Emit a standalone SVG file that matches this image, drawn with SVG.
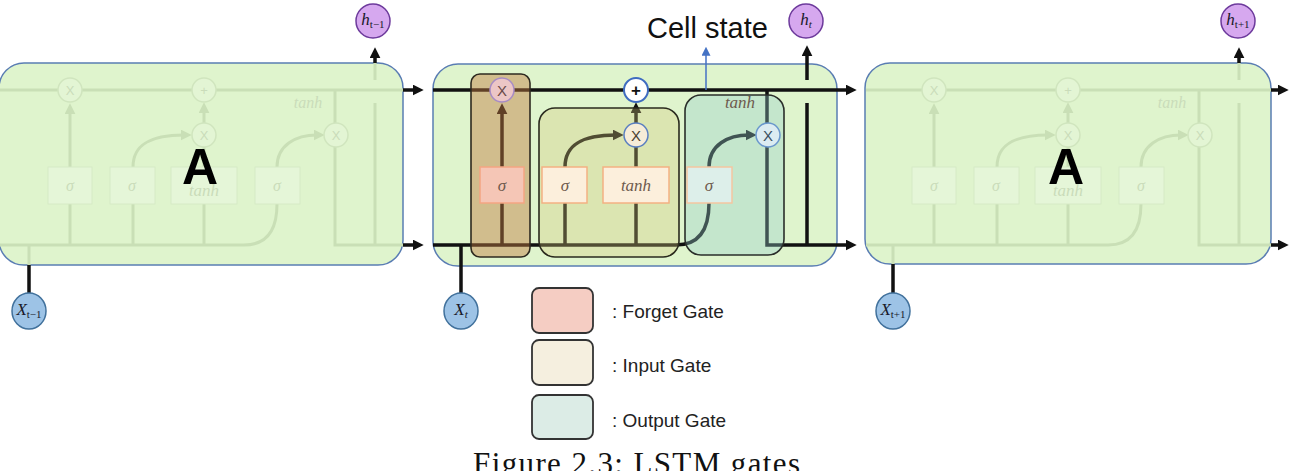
<svg xmlns="http://www.w3.org/2000/svg" width="1296" height="471" viewBox="0 0 1296 471">
<style>
.cellbox{fill:#dff4cd;stroke:#5a7db3;stroke-width:1.5}
.fl{fill:none;stroke:#c9dfb6;stroke-width:3}
.fc{fill:#e3f5d4;stroke:#d0e5be;stroke-width:1.5}
.fbox{fill:#e5f6d8;stroke:#d6eac6;stroke-width:1}
.ft{font-family:"Liberation Serif",serif;font-style:italic;fill:#cadcba;text-anchor:middle}
.fop{font-family:"Liberation Sans",sans-serif;fill:#cadcba;text-anchor:middle;font-size:13px}
.bl{fill:none;stroke:#111;stroke-width:3.5}
.big{font-family:"Liberation Sans",sans-serif;font-weight:bold;font-size:50px;fill:#000;text-anchor:middle}
.sig{font-family:"Liberation Serif",serif;font-style:italic;font-size:17px;fill:#6e5a4e;text-anchor:middle}
.math{font-family:"Liberation Serif",serif;font-size:17px;fill:#1a1a2a;text-anchor:middle}
.leg{font-family:"Liberation Sans",sans-serif;font-size:19px;fill:#222}
.xn{fill:#9dc3e6;stroke:#41719c;stroke-width:1.5}
.hn{fill:#d6a8ef;stroke:#6d3a9c;stroke-width:1.5}
.sw{stroke:#333;stroke-width:1.8}
</style>
<defs>
<marker id="ab" viewBox="0 0 10 10" refX="3" refY="5" markerWidth="11" markerHeight="11" markerUnits="userSpaceOnUse" orient="auto"><path d="M0,0L10,5L0,10z" fill="#111"/></marker>
<marker id="af" viewBox="0 0 10 10" refX="3" refY="5" markerWidth="11" markerHeight="11" markerUnits="userSpaceOnUse" orient="auto"><path d="M0,0L10,5L0,10z" fill="#c9dfb6"/></marker>
<marker id="abl" viewBox="0 0 10 10" refX="3" refY="5" markerWidth="9" markerHeight="9" markerUnits="userSpaceOnUse" orient="auto"><path d="M0,0L10,5L0,10z" fill="#4472c4"/></marker>
</defs>

<!-- Left cell (faded) -->
<g id="cell-left">
<rect class="cellbox" x="-1" y="63" width="404" height="202" rx="25"/>
<path class="fl" d="M0,90H403"/>
<path class="fl" d="M0,245H244Q277,245 277,204"/>
<path class="fl" d="M335,90V245H403"/>
<path class="fl" d="M375,103V245M375,63V80"/>
<path class="fl" d="M29,245V265"/>
<path class="fl" d="M70,245V204M133,245V204M204,245V204M204,167V147"/>
<path class="fl" d="M70,167V111" marker-end="url(#af)"/>
<path class="fl" d="M204,123V110" marker-end="url(#af)"/>
<path class="fl" d="M133,167C133,143 153,135 184,135" marker-end="url(#af)"/>
<path class="fl" d="M277,167C277,145 296,135 317,135" marker-end="url(#af)"/>
<rect class="fbox" x="48" y="167" width="44" height="37"/>
<rect class="fbox" x="110" y="167" width="45" height="37"/>
<rect class="fbox" x="171" y="167" width="66" height="37"/>
<rect class="fbox" x="255" y="167" width="45" height="37"/>
<text class="ft" x="70" y="191" font-size="16">σ</text>
<text class="ft" x="132" y="191" font-size="16">σ</text>
<text class="ft" x="204" y="196" font-size="17">tanh</text>
<text class="ft" x="277" y="191" font-size="16">σ</text>
<text class="ft" x="308" y="108" font-size="16">tanh</text>
<circle class="fc" cx="70" cy="90" r="12"/><text class="fop" x="70" y="95">X</text>
<circle class="fc" cx="204" cy="90" r="12"/><text class="fop" x="204" y="95">+</text>
<circle class="fc" cx="204" cy="135" r="12"/><text class="fop" x="204" y="140">X</text>
<circle class="fc" cx="336" cy="135" r="12"/><text class="fop" x="336" y="140">X</text>
<text class="big" x="200" y="184">A</text>
</g>

<!-- Right cell (faded) -->
<g id="cell-right">
<rect class="cellbox" x="865" y="63" width="406" height="201" rx="25"/>
<path class="fl" d="M866,90H1271"/>
<path class="fl" d="M866,245H1108Q1141,245 1141,204"/>
<path class="fl" d="M1199,90V245H1271"/>
<path class="fl" d="M1239,103V245M1239,63V80"/>
<path class="fl" d="M893,245V264"/>
<path class="fl" d="M934,245V204M997,245V204M1068,245V204M1068,167V147"/>
<path class="fl" d="M934,167V111" marker-end="url(#af)"/>
<path class="fl" d="M1068,123V110" marker-end="url(#af)"/>
<path class="fl" d="M997,167C997,143 1017,135 1048,135" marker-end="url(#af)"/>
<path class="fl" d="M1141,167C1141,145 1160,135 1181,135" marker-end="url(#af)"/>
<rect class="fbox" x="912" y="167" width="44" height="37"/>
<rect class="fbox" x="974" y="167" width="45" height="37"/>
<rect class="fbox" x="1035" y="167" width="66" height="37"/>
<rect class="fbox" x="1119" y="167" width="45" height="37"/>
<text class="ft" x="934" y="191" font-size="16">σ</text>
<text class="ft" x="996" y="191" font-size="16">σ</text>
<text class="ft" x="1068" y="196" font-size="17">tanh</text>
<text class="ft" x="1141" y="191" font-size="16">σ</text>
<text class="ft" x="1172" y="108" font-size="16">tanh</text>
<circle class="fc" cx="934" cy="90" r="12"/><text class="fop" x="934" y="95">X</text>
<circle class="fc" cx="1068" cy="90" r="12"/><text class="fop" x="1068" y="95">+</text>
<circle class="fc" cx="1068" cy="135" r="12"/><text class="fop" x="1068" y="140">X</text>
<circle class="fc" cx="1200" cy="135" r="12"/><text class="fop" x="1200" y="140">X</text>
<text class="big" x="1066" y="184">A</text>
</g>

<!-- Center cell -->
<g id="cell-center">
<rect class="cellbox" x="433" y="64" width="404" height="202" rx="25"/>
<path class="bl" d="M433,90H849" stroke-width="4" marker-end="url(#ab)"/>
<path class="bl" d="M433,245H676Q709,245 709,203"/>
<path class="bl" d="M767,90V245H849" marker-end="url(#ab)"/>
<path class="bl" d="M807,103V245"/>
<path class="bl" d="M502,245V203M565,245V203M636,245V203M636,167V147"/>
<path class="bl" d="M502,167V111" marker-end="url(#ab)"/>
<path class="bl" d="M636,123V110" marker-end="url(#ab)"/>
<path class="bl" d="M565,167C565,143 585,135 616,135" marker-end="url(#ab)"/>
<path class="bl" d="M709,167C709,145 728,135 749,135" marker-end="url(#ab)"/>
<g id="forget-gate"><rect x="471" y="74" width="59" height="183" rx="9" fill="#c07a40" fill-opacity="0.45" stroke="#2e2a20" stroke-width="1.6"/></g>
<g id="input-gate"><rect x="539" y="108" width="140" height="149" rx="16" fill="#d6c878" fill-opacity="0.33" stroke="#2a2a1e" stroke-width="1.6"/></g>
<g id="output-gate"><rect x="685" y="95" width="99" height="160" rx="16" fill="#97cecb" fill-opacity="0.36" stroke="#2a2e2a" stroke-width="1.6"/></g>
<rect x="480" y="167" width="44" height="36" fill="#f5c6b6" stroke="#f4a582" stroke-width="1.5"/>
<rect x="542" y="167" width="45" height="36" fill="#fcefdc" stroke="#f4b183" stroke-width="1.5"/>
<rect x="603" y="167" width="66" height="36" fill="#fcefdc" stroke="#f4b183" stroke-width="1.5"/>
<rect x="687" y="167" width="45" height="36" fill="#ddefea" stroke="#f4c6a0" stroke-width="1.5"/>
<text class="sig" x="502" y="191">σ</text>
<text class="sig" x="565" y="191">σ</text>
<text class="sig" x="636" y="191" font-size="19">tanh</text>
<text class="sig" x="709" y="191">σ</text>
<text class="sig" x="740" y="108" font-size="18" fill="#4d6a60">tanh</text>
<circle cx="502" cy="90" r="12" fill="#ecc6c6" stroke="#a88cc4" stroke-width="1.5"/>
<text x="502" y="96" font-family="Liberation Sans,sans-serif" font-size="15" fill="#6a4a4a" text-anchor="middle">X</text>
<circle cx="636" cy="90" r="12" fill="#ffffff" stroke="#3f6cc0" stroke-width="2"/>
<text x="636" y="96" font-family="Liberation Sans,sans-serif" font-size="17" font-weight="bold" fill="#111" text-anchor="middle">+</text>
<circle cx="636" cy="135" r="12" fill="#f6ecd8" stroke="#5a7fc0" stroke-width="1.5"/>
<text x="636" y="141" font-family="Liberation Sans,sans-serif" font-size="15" fill="#4a4030" text-anchor="middle">X</text>
<circle cx="768" cy="135" r="12" fill="#dcecf2" stroke="#6a98cc" stroke-width="1.5"/>
<text x="768" y="141" font-family="Liberation Sans,sans-serif" font-size="15" fill="#3a5060" text-anchor="middle">X</text>
</g>

<!-- Connectors -->
<g id="connectors">
<path class="bl" d="M403,90H416" marker-end="url(#ab)"/>
<path class="bl" d="M403,245H416" marker-end="url(#ab)"/>
<path class="bl" d="M1271,90H1281" marker-end="url(#ab)"/>
<path class="bl" d="M1271,245H1281" marker-end="url(#ab)"/>
<path class="bl" d="M375,63V55" marker-end="url(#ab)"/>
<path class="bl" d="M807,80V53" marker-end="url(#ab)"/>
<path class="bl" d="M1239,63V55" marker-end="url(#ab)"/>
<path class="bl" d="M29,265V293"/>
<path class="bl" d="M461,245V293"/>
<path class="bl" d="M893,264V293"/>
<path d="M706,90V53" fill="none" stroke="#4472c4" stroke-width="1.5" marker-end="url(#abl)"/>
</g>

<!-- Inputs -->
<g id="x-prev"><ellipse class="xn" cx="29" cy="311" rx="17" ry="18"/><text class="math" x="29" y="315"><tspan font-style="italic">X</tspan><tspan font-size="11" dy="3">t−1</tspan></text></g>
<g id="x-cur"><ellipse class="xn" cx="461" cy="311" rx="17" ry="18"/><text class="math" x="461" y="315"><tspan font-style="italic">X</tspan><tspan font-size="11" font-style="italic" dy="3">t</tspan></text></g>
<g id="x-next"><ellipse class="xn" cx="893" cy="311" rx="17" ry="18"/><text class="math" x="893" y="315"><tspan font-style="italic">X</tspan><tspan font-size="11" dy="3">t+1</tspan></text></g>

<!-- Outputs -->
<g id="h-prev"><circle class="hn" cx="373" cy="21" r="17"/><text class="math" x="373" y="25"><tspan font-style="italic">h</tspan><tspan font-size="11" dy="3">t−1</tspan></text></g>
<g id="h-cur"><circle class="hn" cx="806" cy="21" r="17"/><text class="math" x="806" y="25"><tspan font-style="italic">h</tspan><tspan font-size="11" font-style="italic" dy="3">t</tspan></text></g>
<g id="h-next"><circle class="hn" cx="1238" cy="21" r="17"/><text class="math" x="1238" y="25"><tspan font-style="italic">h</tspan><tspan font-size="11" dy="3">t+1</tspan></text></g>

<g id="cell-state-label"><text x="647" y="38" font-family="Liberation Sans,sans-serif" font-size="29" fill="#111">Cell state</text></g>

<!-- Legend -->
<g id="legend-forget"><rect class="sw" x="532" y="288" width="61" height="45" rx="7" fill="#f5cdc3"/><text class="leg" x="612" y="318">: Forget Gate</text></g>
<g id="legend-input"><rect class="sw" x="532" y="340" width="61" height="45" rx="7" fill="#f5efdf"/><text class="leg" x="612" y="372">: Input Gate</text></g>
<g id="legend-output"><rect class="sw" x="532" y="395" width="61" height="44" rx="7" fill="#dcece6"/><text class="leg" x="612" y="427">: Output Gate</text></g>

<g id="caption"><text x="473" y="474" font-family="Liberation Serif,serif" font-size="31" fill="#111" textLength="327" lengthAdjust="spacing">Figure 2.3: LSTM gates</text></g>
</svg>
